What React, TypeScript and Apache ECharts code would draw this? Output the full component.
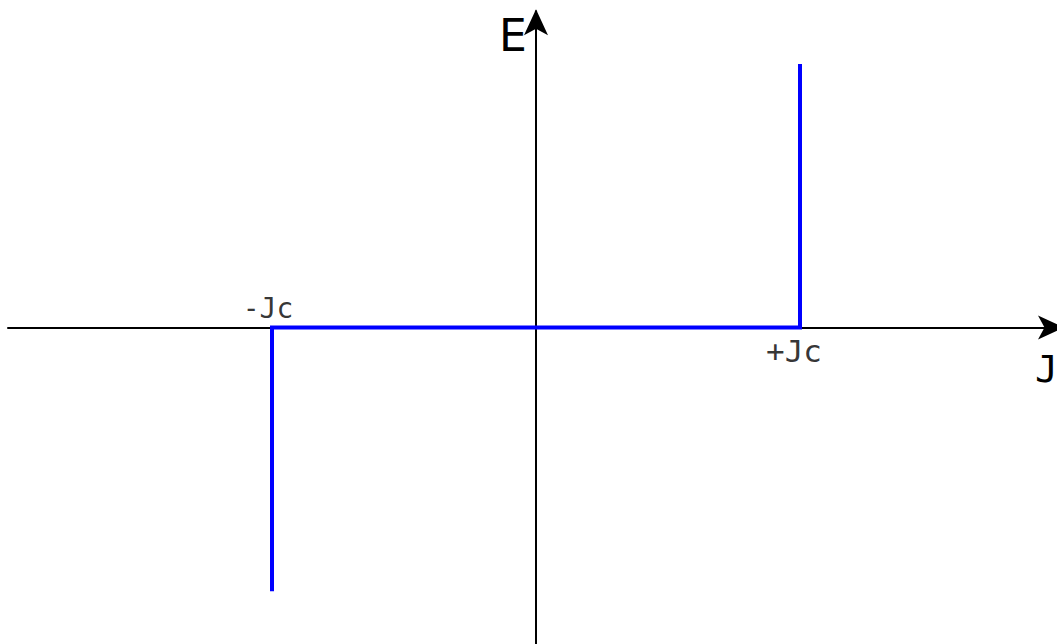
import React, { useEffect, useRef } from "react";
import * as echarts from "echarts";

// Current density J (in units of Jc) and electric field E (normalised)
const jValues = [-1, -1, 1, 1];
const eValues = [-1, 0, 0, 1];
const criticalJ = [-1, 1];
const criticalLabels = ["-Jc", "+Jc"];
const xRange = [-2, 2];
const yRange = [-1.2, 1.2];
const axisNames = ["J", "E"];

export default function App() {
  const ref = useRef<HTMLDivElement>(null);
  useEffect(() => {
    if (!ref.current) return;
    const chart = echarts.init(ref.current, undefined, { renderer: "svg" });
    const axisCommon = {
      type: "value" as const,
      axisLine: {
        show: true,
        onZero: true,
        symbol: ["none", "arrow"],
        symbolSize: [18, 26],
        lineStyle: { color: "#000", width: 2 },
      },
      axisTick: { show: false },
      axisLabel: { show: false },
      splitLine: { show: false },
    };
    chart.setOption({
      animation: false,
      backgroundColor: "#fff",
      grid: { left: 8, top: 11.2, width: 1056, height: 633.6 },
      xAxis: { ...axisCommon, min: xRange[0], max: xRange[1] },
      yAxis: {
        ...axisCommon,
        min: yRange[0],
        max: yRange[1],
        axisLine: { ...axisCommon.axisLine, symbolOffset: [0, 2] },
      },
      graphic: [
        {
          type: "text",
          left: 499,
          top: 13,
          style: {
            text: axisNames[1],
            fontFamily: "DejaVu Sans",
            fontSize: 44,
            fill: "#000",
          },
        },
        {
          type: "text",
          left: 1035,
          top: 350,
          style: {
            text: axisNames[0],
            fontFamily: "DejaVu Sans Mono",
            fontSize: 38,
            fill: "#000",
          },
        },
      ],
      series: [
        {
          type: "line",
          data: jValues.map((j, i) => [j, eValues[i]]),
          showSymbol: false,
          lineStyle: { color: "#0000ff", width: 4, cap: "butt", join: "miter" },
          itemStyle: { color: "#0000ff" },
          z: 3,
        },
        {
          type: "scatter",
          symbolSize: 0,
          data: criticalJ.map((j, i) => ({
            value: [j, 0],
            label: {
              show: true,
              formatter: criticalLabels[i],
              position: i === 0 ? "top" : "bottom",
              distance: i === 0 ? 5 : 8,
              offset: [i === 0 ? -4 : -6, 0],
              fontFamily: "DejaVu Sans Mono",
              fontSize: i === 0 ? 28 : 31,
              color: "#000",
            },
          })),
          z: 4,
        },
      ],
    });
    return () => chart.dispose();
  }, []);
  return (
    <div style={{ position: "fixed", left: 0, top: 0, width: 1057, height: 644, overflow: "hidden", background: "#fff" }}>
      <div ref={ref} style={{ width: 1064, height: 644 }} />
    </div>
  );
}
